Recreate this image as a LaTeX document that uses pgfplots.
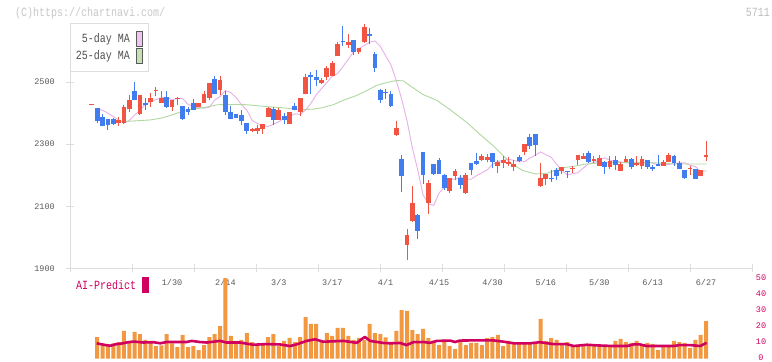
\documentclass[border=0pt]{standalone}
\usepackage{fontspec}
\setmainfont{Liberation Mono}
\newfontfamily\monofont{Liberation Mono}
\newfontfamily\monowide[FakeStretch=0.8]{Liberation Mono}
\newcommand\bigtxt{\monowide\fontsize{12.5bp}{14bp}\selectfont}
\newcommand\smalltxt{\monofont\fontsize{8.5bp}{10bp}\selectfont}
\usepackage{pgfplots}
\usepackage{pgfplotstable}
\pgfplotsset{compat=1.18}
\definecolor{upred}{RGB}{242,84,68}
\definecolor{dnblue}{RGB}{66,125,240}
\definecolor{mafive}{RGB}{232,176,232}
\definecolor{matw}{RGB}{176,216,160}
\definecolor{mafivefill}{RGB}{240,196,240}
\definecolor{matwfill}{RGB}{196,226,180}
\definecolor{volor}{RGB}{242,152,64}
\definecolor{aimag}{RGB}{208,0,96}
\definecolor{axgrey}{RGB}{222,222,222}
\definecolor{txgrey}{RGB}{90,90,90}
\definecolor{legtx}{RGB}{80,80,80}
\definecolor{swb}{RGB}{90,90,90}
\definecolor{copyc}{RGB}{200,200,200}
\definecolor{numc}{RGB}{190,190,190}

\pgfplotstableread{
i O H L C
0 2427 2428 2426 2427
5 2368 2386 2360 2378
6 2367 2427 2364 2420
7 2414 2459 2403 2443
9 2398 2459 2395 2459
11 2436 2464 2421 2449
12 2471 2484 2454 2472
13 2433 2472 2433 2449
15 2421 2443 2407 2443
16 2447 2453 2427 2448
20 2420 2434 2420 2434
21 2434 2470 2434 2463
22 2450 2498 2441 2498
24 2475 2518 2459 2507
30 2341 2352 2338 2349
31 2341 2362 2333 2352
32 2349 2364 2333 2364
33 2389 2421 2386 2418
35 2378 2416 2378 2409
37 2366 2405 2366 2405
39 2404 2449 2391 2449
40 2460 2527 2460 2516
43 2497 2512 2495 2507
44 2516 2553 2507 2546
45 2521 2568 2521 2563
46 2583 2630 2583 2624
48 2620 2656 2609 2630
50 2596 2611 2589 2611
51 2630 2688 2626 2679
57 2330 2375 2325 2351
59 1975 2027 1927 2007
60 2053 2165 2050 2111
63 2111 2183 2075 2175
67 2149 2191 2143 2191
68 2198 2220 2185 2214
70 2143 2207 2141 2201
73 2249 2269 2246 2262
74 2249 2269 2241 2260
76 2230 2249 2207 2243
77 2240 2262 2223 2249
78 2236 2259 2230 2244
79 2227 2249 2214 2236
81 2275 2301 2265 2301
84 2165 2240 2162 2191
85 2188 2204 2169 2204
88 2214 2227 2204 2225
90 2219 2230 2206 2220
91 2249 2266 2233 2265
92 2252 2273 2252 2262
94 2247 2262 2239 2253
95 2230 2265 2230 2256
97 2225 2262 2219 2247
99 2215 2244 2212 2236
100 2241 2262 2241 2253
102 2234 2262 2228 2240
103 2228 2262 2219 2253
107 2231 2249 2231 2243
108 2241 2271 2241 2265
112 2220 2230 2201 2221
114 2196 2217 2196 2217
115 2257 2311 2247 2265
}\uptab

\pgfplotstableread{
i O H L C
1 2418 2418 2368 2375
2 2389 2398 2357 2360
3 2382 2382 2346 2362
4 2382 2384 2362 2364
8 2472 2501 2441 2441
10 2433 2448 2411 2425
14 2453 2472 2416 2421
17 2424 2424 2378 2382
18 2414 2421 2395 2405
19 2431 2445 2411 2411
23 2511 2518 2461 2461
25 2459 2472 2395 2402
26 2405 2424 2382 2382
27 2398 2398 2384 2384
28 2395 2411 2362 2376
29 2368 2368 2333 2341
34 2414 2421 2362 2378
36 2392 2399 2366 2378
38 2424 2432 2409 2409
41 2524 2531 2462 2515
42 2517 2540 2486 2507
47 2633 2680 2615 2628
49 2636 2636 2587 2596
52 2654 2673 2624 2647
53 2591 2598 2531 2544
54 2473 2477 2432 2443
55 2469 2478 2446 2464
56 2462 2472 2421 2424
58 2252 2265 2147 2196
61 2072 2075 1994 2021
62 2275 2275 2172 2201
64 2236 2236 2201 2204
65 2249 2256 2204 2204
66 2201 2204 2153 2159
69 2191 2201 2156 2169
71 2240 2240 2201 2217
72 2246 2272 2233 2236
75 2272 2272 2223 2243
80 2260 2265 2243 2246
82 2324 2333 2285 2294
83 2333 2333 2262 2298
86 2191 2217 2178 2188
87 2217 2222 2183 2196
89 2214 2215 2192 2211
93 2273 2278 2239 2244
96 2244 2246 2204 2225
98 2249 2262 2218 2233
101 2253 2256 2219 2225
104 2249 2249 2219 2225
105 2225 2233 2215 2221
106 2236 2265 2231 2231
109 2262 2265 2231 2239
110 2239 2245 2221 2221
111 2217 2217 2188 2192
113 2220 2220 2188 2188
}\dntab

\pgfplotstableread{
i v
1 2414
2 2409
3 2400
4 2389
5 2377.6
6 2367.8
7 2376.8
8 2393.4
9 2409.2
10 2428.2
11 2437.6
12 2443.4
13 2449.2
14 2450.8
15 2443.2
16 2446.8
17 2446.6
18 2428.6
19 2419.8
20 2417.8
21 2416
22 2419
23 2442.2
24 2453.4
25 2472.6
26 2466.2
27 2450
28 2427.2
29 2410.2
30 2377
31 2366.4
32 2360.4
33 2356.4
34 2364.8
35 2372.2
36 2384.2
37 2389.4
38 2397.6
39 2395.8
40 2410
41 2431.4
42 2458.8
43 2479.2
44 2498.8
45 2518.2
46 2527.6
47 2549.4
48 2573.6
49 2598.2
50 2608.2
51 2617.8
52 2628.8
53 2632.6
54 2615.4
55 2584.8
56 2555.4
57 2504.4
58 2445.2
59 2375.6
60 2288.4
61 2217.8
62 2137.2
63 2107.2
64 2103
65 2142.4
66 2161
67 2188.6
68 2186.6
69 2194.4
70 2187.4
71 2186.8
72 2198.4
73 2207.4
74 2217
75 2235.2
76 2243.6
77 2248.8
78 2251.4
79 2247.8
80 2243
81 2243.6
82 2255.2
83 2264.2
84 2275
85 2266
86 2257.6
87 2235
88 2215.4
89 2200.8
90 2204.8
91 2208
92 2223.4
93 2236.6
94 2240.4
95 2248.8
96 2256
97 2248
98 2245
99 2242.8
100 2239.4
101 2238.8
102 2238.8
103 2237.4
104 2241.4
105 2239.2
106 2232.8
107 2234
108 2234.6
109 2237
110 2239.8
111 2239.8
112 2232
113 2227.6
114 2212.2
115 2214
}\mafivetab

\pgfplotstableread{
i v
6.3 2373
8 2375
11 2378
13 2384
14.6 2392
16.5 2403
18.4 2411
20.2 2416
22 2421
23.5 2427
27 2428
29 2427
32.7 2421
35.2 2418
37.7 2414
39.5 2411
41.5 2413
43 2417
45.2 2427
47 2441
49.6 2457
51.5 2473
53.4 2490
55.3 2499
57 2505
58.3 2504
60 2483
62 2460
64.6 2441
67 2412
70.2 2370
72.7 2331
75.2 2294
77 2263
78.8 2234
80.7 2215
83 2204
85.2 2206
87.7 2223
90.8 2230
92 2235
94.5 2239
97 2241
103.2 2241
106.4 2239
109.5 2236
115.1 2236
}\matwtab

\pgfplotstableread{
i v
1 13.4
2 9.5
3 8.0
4 9.5
5 10.3
6 17.2
7 11
8 16.6
9 15.3
10 11.6
11 10.3
12 7.8
13 8.2
14 15.3
15 9.5
16 7.1
17 14.8
18 7.1
19 7.8
20 5.3
21 8.4
22 13.4
23 15.3
24 20.3
25 60
26 14.1
27 11
28 11.6
29 15.9
30 10.3
31 9.1
32 9.5
33 13.4
34 15.3
35 7.8
36 11
37 12.9
38 10.3
39 13.4
40 25.9
41 21.6
42 21.6
43 11
44 15.9
45 14.1
46 19.1
47 19.1
48 14.1
49 11.6
50 12.9
51 11.6
52 21.6
53 15.9
54 15.3
55 13.2
56 10.3
57 17.2
58 30.3
59 29.7
60 17.8
61 15.3
62 18.5
63 12.8
64 11
65 8.4
66 11.6
67 7.8
68 5.9
69 11.6
70 8.4
71 9.7
72 9.7
73 8.4
74 12.8
75 13.4
76 14.7
77 7.8
78 11
79 9.7
80 9.1
81 9.1
82 9.1
83 10.3
84 24.7
85 11
86 12.8
87 11.6
88 9.7
89 10.3
90 7.8
91 7.8
92 7.8
93 8.4
94 8.4
95 7.8
96 7.8
97 7.8
98 11
99 12.2
100 10.3
101 9.7
102 11
103 8.4
104 9.7
105 9.1
106 5.3
107 8.4
108 8.4
109 11
110 10.3
111 9.7
112 6.6
113 11.6
114 14.7
115 23.4
}\voltab

\pgfplotstableread{
i v
0.9 9.5
2.5 8.4
3.5 8.0
4.6 9.0
5.5 9.3
6.5 10
7.8 10.6
9.6 10
11.5 10.2
12.8 9.5
14 10.3
17.7 10.3
18.7 11
20.2 10.3
21.5 10
24 11
25.2 10
27.7 10
30.2 8.6
32.7 9
35.2 8.8
37.1 7.8
38.3 8.8
40.2 11
41.8 12
43.3 10.5
47.1 11
49.6 9.8
51.1 13.5
52.1 11
54.6 9.7
55.8 9.5
57.7 9.7
58.9 8.4
60.2 10.2
62.1 10.3
63.3 9.8
64.6 11
67.1 11.2
68 10.3
68.9 11.2
70.8 11.3
75.2 11.3
77.1 10.5
79 9.5
82 9.5
83.9 10.2
86.4 9
88.9 9
90.2 7.8
92.7 8.6
94.5 8.2
97.6 7.8
100.2 7.8
101.4 8.8
102.6 8.8
103.9 7.8
108.9 7.8
110.1 8.4
112 8.4
113.9 7.8
115.1 9.8
}\aitab

\begin{document}
\begin{tikzpicture}[x=1bp,y=1bp]
\fill[white] (0,0) rectangle (772,361);
\path[use as bounding box] (0,0) rectangle (772,361);

\begin{axis}[
  at={(70bp,92.7bp)}, anchor=south west, scale only axis,
  width=682bp, height=248.3bp,
  xmin=-4.1, xmax=123.6, ymin=1900, ymax=2700,
  axis line style={draw=none},
  tick align=center, major tick length=8bp,
  tick style={draw=axgrey, line width=1bp},
  xtick pos=bottom, ytick pos=left,
  xtick={-4.1,7.509,19.118,30.727,42.336,53.945,65.555,77.164,88.773,100.382,111.991,123.6},
  xticklabels={{},{},{},{},{},{},{},{},{},{},{},{}},
  extra x ticks={15,25,35,45,55,65,75,85,95,105,115},
  extra x tick labels={1/30,2/14,3/3,3/17,4/1,4/15,4/30,5/16,5/30,6/13,6/27},
  extra x tick style={major tick length=0pt},
  xticklabel style={font=\smalltxt, text=txgrey, anchor=center, yshift=-14.2bp},
  ytick={1900,2100,2300,2500},
  yticklabels={1900,2100,2300,2500},
  yticklabel style={font=\smalltxt, text=txgrey, anchor=east, inner sep=0pt, xshift=-11bp},
  /pgf/number format/assume math mode=true,
  clip=false,
]
\addplot[mafive, line width=0.9bp, mark=none] table[x=i,y=v] {\mafivetab};
\addplot[matw, line width=0.9bp, mark=none] table[x=i,y=v] {\matwtab};
% wicks
\addplot[draw=none, mark=none, forget plot,
  error bars/.cd, y dir=plus, y explicit, error mark=none,
  error bar style={draw=upred, line width=1bp}]
  table[x=i, y=L, y error plus expr={\thisrow{H}-\thisrow{L}}] {\uptab};
\addplot[draw=none, mark=none, forget plot,
  error bars/.cd, y dir=plus, y explicit, error mark=none,
  error bar style={draw=dnblue, line width=1bp}]
  table[x=i, y=L, y error plus expr={\thisrow{H}-\thisrow{L}}] {\dntab};
% bodies
\addplot[draw=none, mark=none, forget plot,
  error bars/.cd, y dir=plus, y explicit, error mark=none,
  error bar style={draw=upred, line width=4.8bp}]
  table[x=i, y=O, y error plus expr={max(\thisrow{C}-\thisrow{O},3)}] {\uptab};
\addplot[draw=none, mark=none, forget plot,
  error bars/.cd, y dir=plus, y explicit, error mark=none,
  error bar style={draw=dnblue, line width=4.8bp}]
  table[x=i, y=C, y error plus expr={max(\thisrow{O}-\thisrow{C},3)}] {\dntab};
\end{axis}

% axis lines
\draw[axgrey, line width=1bp] (70,92.7) -- (752,92.7);
\draw[axgrey, line width=1bp] (70,92.7) -- (70,337);

\begin{axis}[
  at={(70bp,2.5bp)}, anchor=south west, scale only axis,
  width=682bp, height=80bp,
  xmin=-4.1, xmax=123.6, ymin=0, ymax=50,
  axis line style={draw=none},
  xtick=\empty,
  ytick={0,10,20,30,40,50}, yticklabels={0,10,20,30,40,50},
  ytick style={draw=none}, yticklabel pos=right,
  yticklabel style={font=\smalltxt, text=aimag, anchor=center, xshift=9bp, yshift=0.8bp},
  /pgf/number format/assume math mode=true,
]
\addplot[ybar, bar width=4bp, fill=volor, draw=none] table[x=i,y=v] {\voltab};
\addplot[aimag, line width=2.6bp, mark=none, line join=round] table[x=i,y=v] {\aitab};
\end{axis}

% legend
\draw[axgrey, line width=1bp, fill=white] (70,337) rectangle (148.3,289.3);
\node[anchor=base east, inner sep=0pt, text=legtx, font=\bigtxt] at (130,318.7) {5-day MA};
\node[anchor=base east, inner sep=0pt, text=legtx, font=\bigtxt] at (130,301.7) {25-day MA};
\draw[swb, line width=0.9bp, fill=mafivefill] (136.3,330) rectangle (142.7,315);
\draw[swb, line width=0.9bp, fill=matwfill] (136.3,312.7) rectangle (142.7,297.7);

% AI-Predict label
\node[anchor=base west, inner sep=0pt, text=aimag, font=\bigtxt] at (76,71.7) {AI-Predict};
\fill[aimag] (142.3,83.7) rectangle (149,68.3);

% header texts
\node[anchor=base west, inner sep=0pt, text=copyc, font=\bigtxt] at (15,345) {(C)https://chartnavi.com/};
\node[anchor=base east, inner sep=0pt, text=numc, font=\bigtxt] at (770,345) {5711};
\end{tikzpicture}
\end{document}
